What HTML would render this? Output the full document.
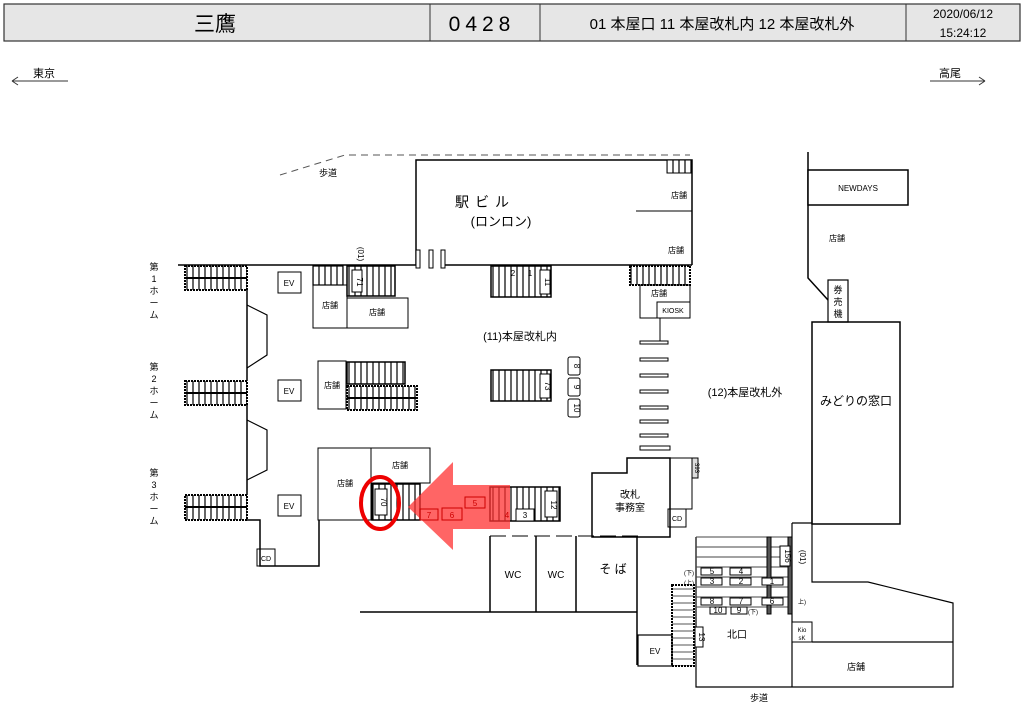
<!DOCTYPE html>
<html><head><meta charset="utf-8"><style>
body{margin:0;background:#fff;}
svg{display:block;font-family:"Liberation Sans","Noto Sans CJK JP",sans-serif;}
</style></head><body>
<svg width="1024" height="726" viewBox="0 0 1024 726" xmlns="http://www.w3.org/2000/svg">
<defs>
<pattern id="st" width="6" height="10" patternUnits="userSpaceOnUse"><rect width="6" height="10" fill="#fff"/><line x1="1" y1="0" x2="1" y2="10" stroke="#000" stroke-width="1.2"/></pattern>
<pattern id="sh" width="10" height="7" patternUnits="userSpaceOnUse"><rect width="10" height="7" fill="#fff"/><line x1="0" y1="1" x2="10" y2="1" stroke="#555" stroke-width="1"/></pattern>
</defs>
<!-- header -->
<rect x="4" y="4" width="1016" height="37" fill="#e6e6e6" stroke="#333" stroke-width="1.2"/>
<line x1="430" y1="4" x2="430" y2="41" stroke="#333"/><line x1="540" y1="4" x2="540" y2="41" stroke="#333"/><line x1="906" y1="4" x2="906" y2="41" stroke="#333"/>
<text x="215" y="31" font-size="21" text-anchor="middle">三鷹</text>
<text x="482" y="31" font-size="21" text-anchor="middle" letter-spacing="5">0428</text>
<text x="722" y="29" font-size="15" text-anchor="middle">01 本屋口 11 本屋改札内  12 本屋改札外</text>
<text x="963" y="18" font-size="12" text-anchor="middle">2020/06/12</text>
<text x="963" y="37" font-size="12" text-anchor="middle">15:24:12</text>
<text x="44" y="77" font-size="11" text-anchor="middle">東京</text>
<path d="M12 81H68M12 81l6-4M12 81l6 4" stroke="#333" fill="none"/>
<text x="950" y="77" font-size="11" text-anchor="middle">高尾</text>
<path d="M930 81H985M985 81l-6-4M985 81l-6 4" stroke="#333" fill="none"/>
<g stroke="#000" fill="none" stroke-width="1.5">
<!-- top dashed -->
<path d="M280 175L345 155H690" stroke-dasharray="7 5" stroke="#555" stroke-width="1"/>
<!-- station building -->
<path d="M416 265V160H692V265"/>
<line x1="636" y1="211" x2="692" y2="211" stroke-width="1"/>
<rect x="667" y="160" width="24" height="13" fill="url(#st)" stroke-width="1"/>
<line x1="178" y1="265" x2="416" y2="265"/><line x1="445" y1="265" x2="692" y2="265"/>
<rect x="416" y="250" width="4" height="18" fill="#fff" stroke-width="1"/><rect x="429" y="250" width="4" height="18" fill="#fff" stroke-width="1"/><rect x="441" y="250" width="4" height="18" fill="#fff" stroke-width="1"/>
<!-- platform stairs -->
<rect x="185" y="266" width="62" height="24" fill="url(#st)" stroke-dasharray="2 1" stroke-width="2"/><line x1="185" y1="278" x2="247" y2="278" stroke-width="2"/>
<rect x="185" y="381" width="62" height="24" fill="url(#st)" stroke-dasharray="2 1" stroke-width="2"/><line x1="185" y1="393" x2="247" y2="393" stroke-width="2"/>
<rect x="185" y="495" width="62" height="25" fill="url(#st)" stroke-dasharray="2 1" stroke-width="2"/><line x1="185" y1="507" x2="247" y2="507" stroke-width="2"/>
<path d="M247 290V381M247 405V495M247 520H260V566H319V520"/>
<path d="M247 305L267 315V355L247 368M247 420L267 430V470L247 480" stroke-width="1.2"/>
<rect x="257" y="549" width="18" height="17" stroke-width="1"/>
<!-- EVs -->
<rect x="278" y="272" width="23" height="21" stroke-width="1"/><rect x="278" y="380" width="23" height="21" stroke-width="1"/><rect x="278" y="495" width="23" height="21" stroke-width="1"/>
<!-- shops top-left -->
<rect x="313" y="266" width="30" height="19" fill="url(#st)" stroke-width="1.2"/>
<rect x="347" y="266" width="48" height="30" fill="url(#st)" stroke-width="1.5"/>
<rect x="352" y="270" width="10" height="22" fill="#fff" stroke-width="1"/>
<rect x="313" y="285" width="34" height="43" stroke-width="1"/><rect x="347" y="298" width="61" height="30" stroke-width="1"/>
<!-- middle -->
<rect x="318" y="361" width="28" height="48" stroke-width="1"/>
<rect x="347" y="362" width="58" height="22" fill="url(#st)"/>
<rect x="347" y="386" width="70" height="24" fill="url(#st)" stroke-dasharray="2 1" stroke-width="2"/><line x1="347" y1="398" x2="417" y2="398" stroke-width="2"/>
<!-- bottom-left shops -->
<rect x="318" y="448" width="53" height="72" stroke-width="1"/><rect x="371" y="448" width="59" height="35" stroke-width="1"/>
<rect x="372" y="484" width="48" height="36" fill="url(#st)" stroke-width="1.5"/>
<rect x="375" y="489" width="12" height="26" fill="#fff" stroke-width="1"/>
<!-- right escalators -->
<rect x="491" y="266" width="60" height="31" fill="url(#st)" stroke-width="1.5"/>
<rect x="540" y="270" width="10" height="24" fill="#fff" stroke-width="1"/>
<rect x="491" y="370" width="60" height="31" fill="url(#st)" stroke-width="1.5"/>
<rect x="540" y="374" width="10" height="24" fill="#fff" stroke-width="1"/>
<rect x="568" y="357" width="12" height="18" rx="2" stroke-width="1"/><rect x="568" y="378" width="12" height="18" rx="2" stroke-width="1"/><rect x="568" y="399" width="12" height="18" rx="2" stroke-width="1"/>
<rect x="490" y="487" width="70" height="34" fill="url(#st)" stroke-width="1.5"/>
<rect x="545" y="491" width="12" height="26" fill="#fff" stroke-width="1"/>
<rect x="516" y="509" width="18" height="12" fill="#fff" stroke-width="1"/>
<!-- WC -->
<path d="M490 536H640" stroke-dasharray="16 6" stroke-width="1"/>
<path d="M490 536V612M536 536V612M576 536V612M637 537V665M360 612H637"/>
<!-- office -->
<path d="M592 537V473H627V458H670V537Z"/>
<rect x="640" y="446" width="30" height="4" stroke-width="1"/>
<rect x="670" y="458" width="22" height="51" stroke-width="1"/>
<rect x="668" y="509" width="18" height="18" stroke-width="1"/>
<rect x="692" y="458" width="6" height="20" fill="#ddd" stroke-width="1"/>
<!-- kiosk area -->
<rect x="630" y="266" width="60" height="19" fill="url(#st)" stroke-dasharray="2 1" stroke-width="2"/>
<rect x="640" y="285" width="50" height="33" stroke-width="1"/><rect x="657" y="302" width="33" height="16" stroke-width="1"/>
<line x1="660" y1="318" x2="660" y2="341" stroke-width="1"/>
<g stroke-width="1"><rect x="640" y="341" width="28" height="3"/><rect x="640" y="358" width="28" height="3"/><rect x="640" y="374" width="28" height="3"/><rect x="640" y="390" width="28" height="3"/><rect x="640" y="406" width="28" height="3"/><rect x="640" y="420" width="28" height="3"/><rect x="640" y="434" width="28" height="3"/></g>
<!-- right side -->
<path d="M808 152V278L828 300"/>
<rect x="808" y="170" width="100" height="35" fill="#fff"/>
<rect x="828" y="280" width="20" height="42" stroke-width="1.2"/>
<rect x="812" y="322" width="88" height="202"/>
<!-- north exit -->
<path d="M696 537V687H953V603L868 582H812V440M792 523V687M812 642H953M792 523H812" stroke-width="1.2"/>
<g stroke-width="1" stroke="#444"><line x1="696" y1="537" x2="792" y2="537"/><line x1="696" y1="547" x2="792" y2="547"/><line x1="696" y1="557" x2="792" y2="557"/><line x1="696" y1="567" x2="792" y2="567"/><line x1="696" y1="577" x2="792" y2="577"/><line x1="696" y1="587" x2="792" y2="587"/><line x1="696" y1="597" x2="792" y2="597"/><line x1="696" y1="607" x2="792" y2="607"/></g>
<rect x="767" y="537" width="4" height="77" fill="#555" stroke-width="1"/><rect x="788" y="537" width="4" height="77" fill="#555" stroke-width="1"/>
<rect x="780" y="546" width="10" height="20" fill="#fff" stroke-width="1"/>
<rect x="672" y="585" width="22" height="81" fill="url(#sh)" stroke-dasharray="2 1" stroke-width="2"/>
<rect x="695" y="627" width="8" height="20" fill="#fff" stroke-width="1"/>
<rect x="638" y="635" width="34" height="31" stroke-width="1.2"/>
<rect x="792" y="622" width="20" height="20" fill="#fff" stroke-width="1"/>
<g stroke-width="1" fill="#fff"><rect x="701" y="568" width="21" height="7"/><rect x="730" y="568" width="21" height="7"/><rect x="701" y="578" width="21" height="7"/><rect x="730" y="578" width="21" height="7"/><rect x="762" y="578" width="21" height="7"/><rect x="701" y="598" width="21" height="7"/><rect x="730" y="598" width="21" height="7"/><rect x="762" y="598" width="21" height="7"/><rect x="710" y="607" width="16" height="7"/><rect x="731" y="607" width="16" height="7"/></g>
</g>
<!-- red arrow & circle -->
<path d="M408 507L453 462V485H510V529H453V550Z" fill="rgba(255,50,50,0.75)"/>
<g stroke="#c00" fill="none" stroke-width="1"><rect x="420" y="509" width="18" height="11"/><rect x="442" y="508" width="20" height="12"/><rect x="465" y="497" width="20" height="11"/></g>
<ellipse cx="380" cy="503" rx="19" ry="26" fill="none" stroke="#e00" stroke-width="4"/>
<!-- labels -->
<g font-size="8" text-anchor="middle" fill="#000">
<text x="328" y="176" font-size="9">歩道</text>
<text x="679" y="198">店舗</text><text x="676" y="253">店舗</text>
<text x="289" y="286">EV</text><text x="289" y="394">EV</text><text x="289" y="509">EV</text>
<text x="330" y="308">店舗</text><text x="377" y="315">店舗</text><text x="332" y="388">店舗</text>
<text x="345" y="486">店舗</text><text x="400" y="468">店舗</text>
<text x="266" y="561" font-size="7">CD</text>
<text x="659" y="296">店舗</text><text x="673" y="313" font-size="7">KIOSK</text>
<text x="858" y="191" font-size="8">NEWDAYS</text><text x="837" y="241">店舗</text>
<text x="838" y="293" font-size="9">券</text><text x="838" y="305" font-size="9">売</text><text x="838" y="317" font-size="9">機</text>
<text x="513" y="578" font-size="10">WC</text><text x="556" y="578" font-size="10">WC</text>
<text x="613" y="573" font-size="12">そ ば</text>
<text x="630" y="498" font-size="10">改札</text><text x="630" y="511" font-size="10">事務室</text>
<text x="677" y="521" font-size="7">CD</text>
<text x="655" y="654">EV</text>
<text x="737" y="638" font-size="10">北口</text><text x="759" y="701" font-size="9">歩道</text>
<text x="856" y="670" font-size="9">店舗</text>
<text x="802" y="632" font-size="6">Kio</text><text x="802" y="640" font-size="6">sK</text>
<text x="712" y="574">5</text><text x="741" y="574">4</text><text x="712" y="584">3</text><text x="741" y="584">2</text><text x="772" y="584">1</text>
<text x="712" y="604">8</text><text x="741" y="604">7</text><text x="772" y="604">6</text><text x="718" y="613">10</text><text x="739" y="613">9</text>
<text x="689" y="575" font-size="6">(下)</text><text x="689" y="585" font-size="6">(上)</text><text x="753" y="614" font-size="6">(下)</text><text x="802" y="604" font-size="6">上)</text>
<text x="429" y="518" fill="#c00">7</text><text x="452" y="518" fill="#c00">6</text><text x="475" y="506" fill="#c00">5</text><text x="525" y="518">3</text><text x="507" y="518" fill="#c00">4</text>
<text x="513" y="276">2</text><text x="530" y="276">1</text>
</g>
<g font-size="11" text-anchor="middle">
<text x="485" y="207" font-size="14" letter-spacing="6">駅ビル</text>
<text x="501" y="226" font-size="13">(ロンロン)</text>
<text x="520" y="340">(11)本屋改札内</text>
<text x="745" y="396">(12)本屋改札外</text>
<text x="856" y="405" font-size="12">みどりの窓口</text>
</g>
<g font-size="8" text-anchor="middle">
<text transform="translate(357,282) rotate(90)">71</text>
<text transform="translate(545,282) rotate(90)">11</text>
<text transform="translate(574,366) rotate(90)">8</text><text transform="translate(574,387) rotate(90)">9</text><text transform="translate(574,408) rotate(90)">10</text>
<text transform="translate(545,386) rotate(90)">73</text>
<text transform="translate(381,502) rotate(90)">70</text>
<text transform="translate(551,505) rotate(90)">12</text>
<text transform="translate(785,556) rotate(90)">156</text>
<text transform="translate(699,637) rotate(90)">13</text>
<text transform="translate(695,468) rotate(90)" font-size="6">393</text>
<text transform="translate(358,254) rotate(90)" font-size="8">(01)</text>
<text transform="translate(800,557) rotate(90)" font-size="8">(01)</text>
</g>
<g font-size="9" text-anchor="middle">
<text x="154" y="270">第</text><text x="154" y="282">1</text><text x="154" y="294">ホ</text><text x="154" y="306">ー</text><text x="154" y="318">ム</text>
<text x="154" y="370">第</text><text x="154" y="382">2</text><text x="154" y="394">ホ</text><text x="154" y="406">ー</text><text x="154" y="418">ム</text>
<text x="154" y="476">第</text><text x="154" y="488">3</text><text x="154" y="500">ホ</text><text x="154" y="512">ー</text><text x="154" y="524">ム</text>
</g>
</svg>
</body></html>
